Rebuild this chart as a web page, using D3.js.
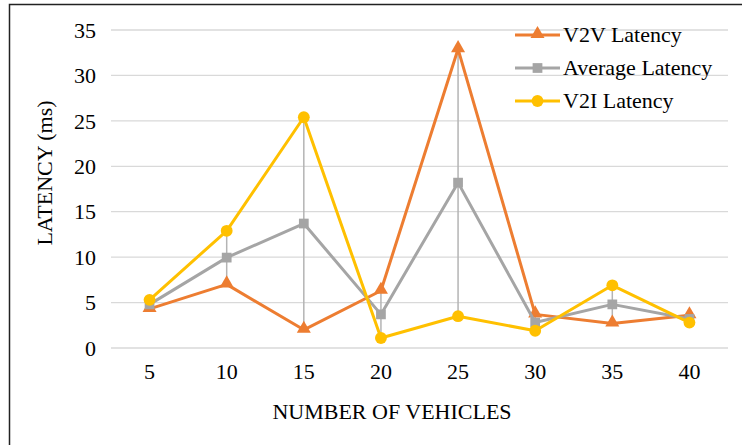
<!DOCTYPE html>
<html>
<head>
<meta charset="utf-8">
<script src="https://cdn.jsdelivr.net/npm/d3@7"></script>
<style>
  html, body { margin: 0; padding: 0; background: #fff; }
  svg { display: block; }
  svg text { font-family: "Times New Roman", "Liberation Serif", Times, serif !important; fill: #000; }
</style>
</head>
<body>
<svg id="chart" width="742" height="445"></svg>
<script>
// Number of vehicles on the x axis
const vehicles = ["5", "10", "15", "20", "25", "30", "35", "40"];

// Latency in milliseconds for each vehicle count
const v2vLatency = [4.3, 7.0, 2.0, 6.3, 32.9, 3.7, 2.7, 3.6];
const avgLatency = [4.8, 9.95, 13.7, 3.7, 18.2, 2.8, 4.8, 3.2];
const v2iLatency = [5.3, 12.9, 25.4, 1.1, 3.5, 1.9, 6.9, 2.8];

const yTicks = [0, 5, 10, 15, 20, 25, 30, 35];

const seriesNames = ["V2V Latency", "Average Latency", "V2I Latency"];
const seriesColors = ["#ED7D31", "#A5A5A5", "#FFC000"];
const seriesShapes = [d3.symbolTriangle, d3.symbolSquare, d3.symbolCircle];
const seriesSizes = [85, 95, 110];

const series = [v2vLatency, avgLatency, v2iLatency].map((values, i) => ({
  name: seriesNames[i], color: seriesColors[i], shape: seriesShapes[i], size: seriesSizes[i], values
}));

const FONT = "'Times New Roman', 'Liberation Serif', serif";
const FS = "22px";
const svg = d3.select("#chart");
const plot = { left: 111, right: 728, top: 30, bottom: 348 };

const x = d3.scaleBand().domain(vehicles).range([plot.left, plot.right]);
const y = d3.scaleLinear().domain([0, 35]).range([plot.bottom, plot.top]);
const cx = d => x(d) + x.bandwidth() / 2;

// Outer frame (left and top edges)
svg.append("path")
  .attr("d", "M9.5,445 L9.5,4.5 L742,4.5")
  .attr("fill", "none").attr("stroke", "#222").attr("stroke-width", 1.5);

// Horizontal gridlines
svg.append("g").selectAll("line").data(yTicks).join("line")
  .attr("x1", plot.left).attr("x2", plot.right)
  .attr("y1", d => y(d)).attr("y2", d => y(d))
  .attr("stroke", "#D9D9D9").attr("stroke-width", 1.3);

// Y axis tick labels
const yAxis = d3.axisLeft(y).tickValues(yTicks).tickSize(0).tickPadding(0);
const yg = svg.append("g").attr("transform", `translate(${plot.left - 15},0)`).call(yAxis);
yg.select(".domain").remove();
yg.selectAll("text").style("font-family", FONT).style("font-size", FS).attr("dy", "0.33em");

// X axis tick labels
const xAxis = d3.axisBottom(x).tickSize(0).tickPadding(0);
const xg = svg.append("g").attr("transform", `translate(0,${plot.bottom + 15})`).call(xAxis);
xg.select(".domain").remove();
xg.selectAll("text").style("font-family", FONT).style("font-size", FS).attr("dy", "0.72em");

// Axis titles
svg.append("text")
  .attr("x", 392).attr("y", 419)
  .attr("text-anchor", "middle")
  .style("font-family", FONT).style("font-size", FS)
  .text("NUMBER OF VEHICLES");
svg.append("text")
  .attr("transform", "translate(52,173) rotate(-90)")
  .attr("text-anchor", "middle")
  .style("font-family", FONT).style("font-size", FS)
  .text("LATENCY (ms)");

// High-low lines joining the highest and lowest value at each vehicle count
svg.append("g").selectAll("line").data(vehicles).join("line")
  .attr("x1", d => cx(d)).attr("x2", d => cx(d))
  .attr("y1", (d, i) => y(d3.max(series, s => s.values[i])))
  .attr("y2", (d, i) => y(d3.min(series, s => s.values[i])))
  .attr("stroke", "#B4B4B4").attr("stroke-width", 1.5);

// Series lines and markers
const line = d3.line().x((v, i) => cx(vehicles[i])).y(v => y(v));
const gs = svg.append("g").selectAll("g").data(series).join("g");
gs.append("path")
  .attr("d", s => line(s.values))
  .attr("fill", "none").attr("stroke", s => s.color)
  .attr("stroke-width", 3).attr("stroke-linejoin", "round");
gs.each(function (s) {
  d3.select(this).selectAll("path.m").data(s.values).join("path")
    .attr("class", "m")
    .attr("transform", (v, i) => `translate(${cx(vehicles[i])},${y(v) + (s.shape === d3.symbolTriangle ? -1 : 0)})`)
    .attr("d", d3.symbol().type(s.shape).size(s.size))
    .attr("fill", s.color);
});

// Legend
const legend = svg.append("g").attr("transform", "translate(515,35)");
const items = legend.selectAll("g").data(series).join("g")
  .attr("transform", (s, i) => `translate(0,${i * 33})`);
items.append("line").attr("x1", 0).attr("x2", 45).attr("y1", 0).attr("y2", 0)
  .attr("stroke", s => s.color).attr("stroke-width", 3);
items.append("path")
  .attr("transform", s => `translate(22.5,${s.shape === d3.symbolTriangle ? -1 : 0})`)
  .attr("d", s => d3.symbol().type(s.shape).size(s.size)())
  .attr("fill", s => s.color);
items.append("text").attr("x", 48).attr("y", 0).attr("dy", "0.33em")
  .style("font-family", FONT).style("font-size", FS).text(s => s.name);
</script>
</body>
</html>
